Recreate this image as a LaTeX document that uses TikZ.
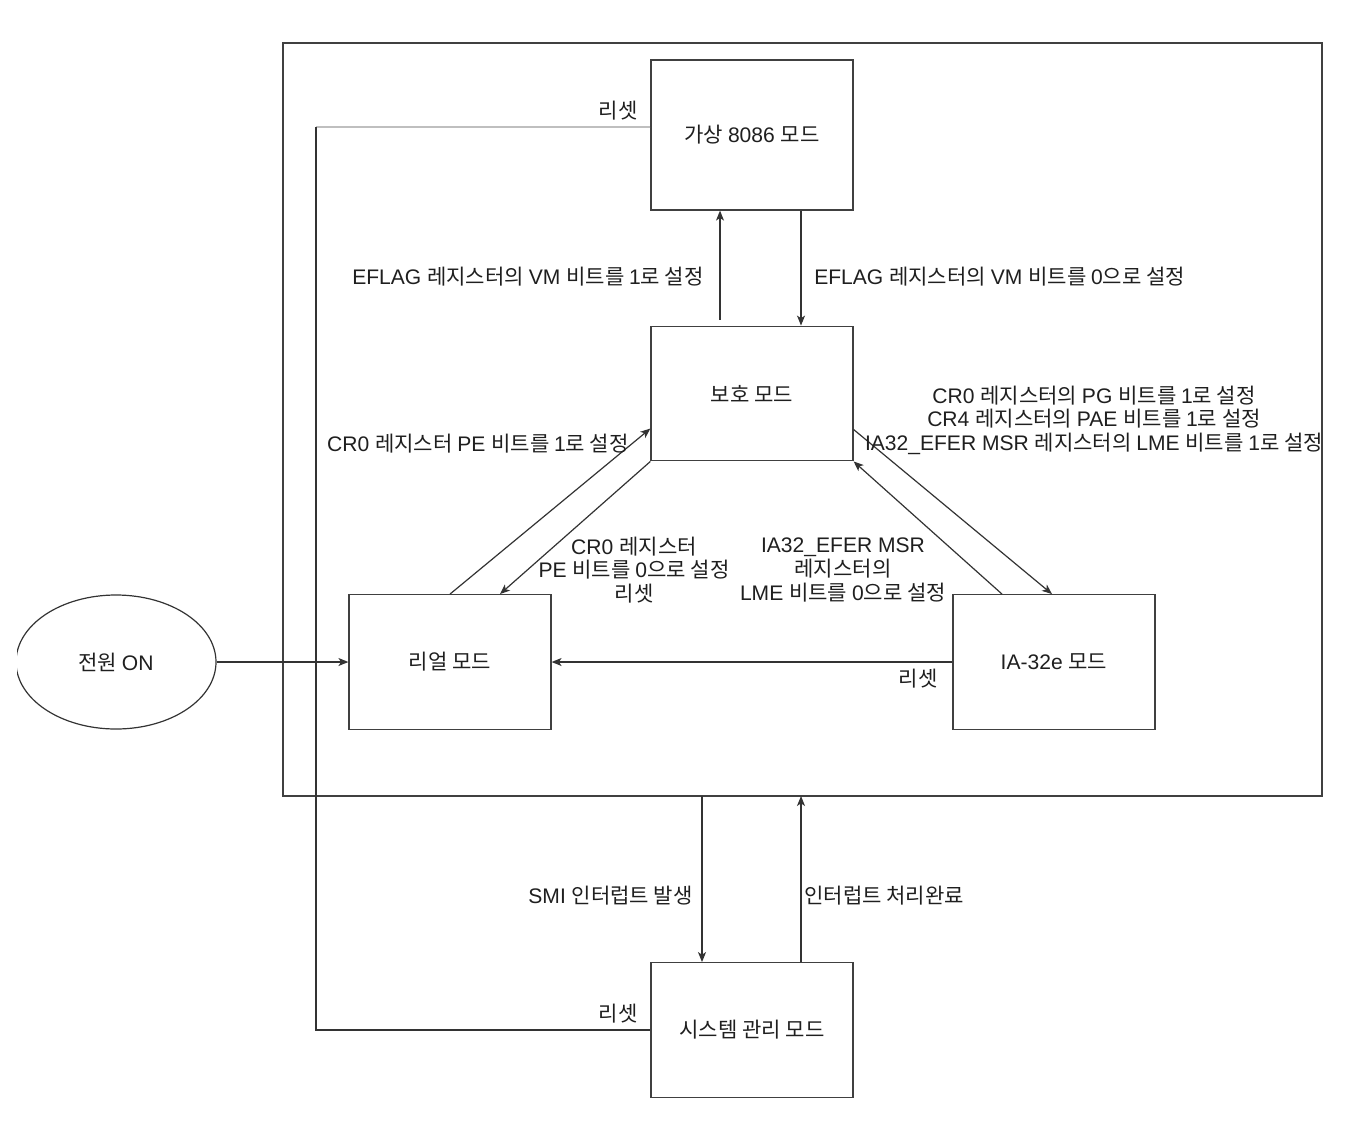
\documentclass[tikz,border=0pt]{standalone}
\usepackage{fontspec}
\setmainfont{Liberation Sans}
\newfontfamily\latinfont{Liberation Sans}
\newfontfamily\krfont{Noto Sans CJK KR}
\XeTeXinterchartokenstate=1
\newcount\hcount
\hcount="AC00
\loop
  \XeTeXcharclass\hcount=7
  \ifnum\hcount<"D7A3 \advance\hcount by 1
\repeat
\XeTeXinterchartoks 0 7 = {\krfont}
\XeTeXinterchartoks 4095 7 = {\krfont}
\XeTeXinterchartoks 7 0 = {\latinfont}
\XeTeXinterchartoks 4095 0 = {\latinfont}
\usetikzlibrary{arrows.meta,calc,shapes.geometric}
\begin{document}
\begin{tikzpicture}[x=0.75pt,y=-0.75pt,
  every node/.style={font=\fontsize{15.8}{17.7}\selectfont, text=black!88},
  modebox/.style={draw=black!75, line width=0.9pt, minimum width=151.5pt, minimum height=101pt, inner sep=0pt},
  conn/.style={draw=black!80, line width=0.9pt},
  arr/.style={conn, -{Stealth[length=7.5pt,width=6pt,inset=2pt]}},
  lbl/.style={inner sep=0pt, align=center}]
\useasboundingbox (0,0) rectangle (1356,1122);
\fill[white] (0,0) rectangle (1356,1122);
% outer frame
\node (outer) [draw=black!75, line width=0.9pt, minimum width=779.25pt, minimum height=564.75pt, inner sep=0pt] at (802.5,419.5) {};
% mode boxes
\node (v86) [modebox, minimum height=112.5pt] at (752,135) {가상 8086 모드};
\node (prot) [modebox] at (752,393.5) {보호 모드};
\node (real) [modebox] at (450,662) {리얼 모드};
\node (ia32e) [modebox] at (1054,662) {IA-32e 모드};
\node (smm) [modebox] at (752,1030) {시스템 관리 모드};
% power on ellipse (clipped on the left)
\begin{scope}
\clip (17,0) rectangle (1356,1122);
\node (pwr) [ellipse, draw=black!80, line width=0.9pt, minimum width=150pt, minimum height=100.5pt, inner sep=0pt] at (116,662) {전원 ON};
\end{scope}
% reset path
\coordinate (rtop) at (316,127);
\coordinate (rbot) at (316,1030);
\draw[conn, draw=black!25] ($(v86.west)+(0,-8)$) -- (rtop);
\draw[conn] (rtop) -- (rbot) -- (smm.west);
\node[lbl, anchor=east] at (638,111) {리셋};
\node[lbl, anchor=east] at (638,1014) {리셋};
% power on -> real
\draw[arr] (pwr.east) -- (real.west);
% v86 <-> prot
\draw[arr] ($(prot.north)+(-32,-6)$) -- ($(v86.south)+(-32,0)$);
\draw[arr] ($(v86.south)+(49,0)$) -- ($(prot.north)+(49,0)$);
\node[lbl, anchor=east] at (704,277) {EFLAG 레지스터의 VM 비트를 1로 설정};
\node[lbl, anchor=west] at (814,277) {EFLAG 레지스터의 VM 비트를 0으로 설정};
% real <-> prot
\draw[arr] (real.north) -- ($(prot.west)+(0,35)$);
\draw[arr] (prot.south west) -- ($(real.north)+(50,0)$);
\node[lbl, anchor=east] at (629,444) {CR0 레지스터 PE 비트를 1로 설정};
\node[lbl] at (634,570) {CR0 레지스터\\PE 비트를 0으로 설정\\리셋};
% prot <-> ia32e
\draw[arr] ($(prot.east)+(0,36)$) -- ($(ia32e.north)+(-2,0)$);
\draw[arr] ($(ia32e.north)+(-52,0)$) -- (prot.south east);
\node[lbl] at (1094,420) {CR0 레지스터의 PG 비트를 1로 설정\\CR4 레지스터의 PAE 비트를 1로 설정\\IA32\_EFER MSR 레지스터의 LME 비트를 1로 설정};
\node[lbl] at (843,570) {IA32\_EFER MSR\\레지스터의\\LME 비트를 0으로 설정};
% ia32e -> real
\draw[arr] (ia32e.west) -- (real.east);
\node[lbl, anchor=east] at (938,679) {리셋};
% outer <-> smm
\coordinate (smiA) at (702,796);
\coordinate (smiB) at (801,796);
\draw[arr] (smiA) -- (smiA |- smm.north);
\draw[arr] (smiB |- smm.north) -- (smiB);
\node[lbl, anchor=east] at (693,896) {SMI 인터럽트 발생};
\node[lbl, anchor=west] at (804,896) {인터럽트 처리완료};
\end{tikzpicture}
\end{document}
